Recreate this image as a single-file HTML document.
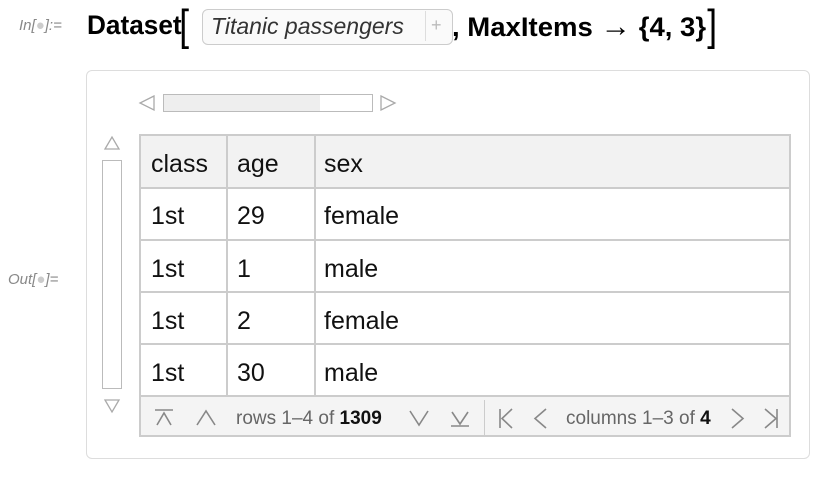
<!DOCTYPE html>
<html><head><style>
body{margin:0;width:814px;height:494px;background:#fff;font-family:"Liberation Sans",sans-serif;position:relative;overflow:hidden}
.a{position:absolute}
.lbl{color:#888;font-style:italic;font-size:15px}
.cell{position:absolute;font-size:25px;color:#111}
</style></head><body>
<div class="a lbl" style="left:19px;top:17px">In[<span style="color:#ccc">●</span>]:=</div>
<div class="a" style="left:87px;top:10px;font-size:27px;font-weight:bold;white-space:nowrap;transform:scaleX(0.97);transform-origin:left">Dataset</div>
<div class="a" style="left:178px;top:1px;font-size:44px;white-space:nowrap;transform:scaleX(0.8)">[</div>
<div class="a" style="left:202px;top:9px;width:249px;height:34px;border:1px solid #ccc;border-radius:6px;background:#fafafa"></div>
<div class="a" style="left:211px;top:13px;font-size:23px;font-style:italic;color:#333;white-space:nowrap">Titanic passengers</div>
<div class="a" style="left:425px;top:11px;width:1px;height:30px;background:#ddd"></div>
<div class="a" style="left:431px;top:15px;color:#bbb;font-size:18px">+</div>
<div class="a" style="left:452px;top:10px;font-size:27px;font-weight:bold;white-space:nowrap;transform:scaleX(1.02);transform-origin:left">, MaxItems <span style="font-size:30px">→</span> {4, 3}</div>
<div class="a" style="left:706px;top:1px;font-size:44px;white-space:nowrap;transform:scaleX(0.8)">]</div>

<div class="a lbl" style="left:8px;top:271px">Out[<span style="color:#ccc">●</span>]=</div>
<div class="a" style="left:86px;top:70px;width:722px;height:387px;border:1px solid #ddd;border-radius:6px"></div>

<svg class="a" style="left:0;top:0" width="814" height="494">
<g fill="none" stroke="#aaa" stroke-width="1.3">
<polygon points="154,96 140,103 154,110"/>
<polygon points="381,96 395,103 381,110"/>
<polygon points="105,149 112,137 119,149"/>
<polygon points="105,400 112,412 119,400"/>
</g>
<g fill="none" stroke="#888" stroke-width="1.6">
<path d="M155,410 H173 M157,425 L164,413 L171,425"/>
<path d="M197,425 L206,411 L215,425"/>
<path d="M410,411 L419,425 L428,411"/>
<path d="M451,426 H469 M452,412 L460,424 L468,412"/>
<path d="M500,409 V428 M512,409 L502,418.5 L512,428"/>
<path d="M546,409 L535,418.5 L546,428"/>
<path d="M732,409 L743,418.5 L732,428"/>
<path d="M765,409 L776,418.5 L765,428 M777,409 V428"/>
</g>
</svg>
<div class="a" style="left:163px;top:94px;width:208px;height:16px;border:1px solid #bbb;background:linear-gradient(90deg,#eee 0,#eee 156px,#fff 156px)"></div>
<div class="a" style="left:102px;top:160px;width:18px;height:227px;border:1px solid #bbb;background:#fff"></div>

<div class="a" style="left:139px;top:134px;width:652px;height:303px;border:2px solid #ccc;box-sizing:border-box"></div>
<div class="a" style="left:141px;top:136px;width:648px;height:51px;background:#f2f2f2"></div>
<div class="a" style="left:141px;top:397px;width:648px;height:38px;background:#f4f4f4;z-index:-1"></div>
<div class="a" style="left:139px;top:187px;width:652px;height:2px;background:#ccc"></div>
<div class="a" style="left:139px;top:239px;width:652px;height:2px;background:#ccc"></div>
<div class="a" style="left:139px;top:291px;width:652px;height:2px;background:#ccc"></div>
<div class="a" style="left:139px;top:343px;width:652px;height:2px;background:#ccc"></div>
<div class="a" style="left:139px;top:395px;width:652px;height:2px;background:#ccc"></div>
<div class="a" style="left:226px;top:134px;width:2px;height:262px;background:#ccc"></div>
<div class="a" style="left:314px;top:134px;width:2px;height:262px;background:#ccc"></div>
<div class="a" style="left:484px;top:400px;width:1px;height:36px;background:#ccc"></div>

<div class="cell" style="left:151px;top:150px">class</div><div class="cell" style="left:237px;top:150px">age</div><div class="cell" style="left:324px;top:150px">sex</div>
<div class="cell" style="left:151px;top:202px">1st</div><div class="cell" style="left:237px;top:202px">29</div><div class="cell" style="left:324px;top:202px">female</div>
<div class="cell" style="left:151px;top:255px">1st</div><div class="cell" style="left:237px;top:255px">1</div><div class="cell" style="left:324px;top:255px">male</div>
<div class="cell" style="left:151px;top:307px">1st</div><div class="cell" style="left:237px;top:307px">2</div><div class="cell" style="left:324px;top:307px">female</div>
<div class="cell" style="left:151px;top:359px">1st</div><div class="cell" style="left:237px;top:359px">30</div><div class="cell" style="left:324px;top:359px">male</div>

<div class="a" style="left:236px;top:408px;font-size:19px;color:#666;white-space:nowrap">rows 1–4 of <b style="color:#111">1309</b></div>
<div class="a" style="left:566px;top:408px;font-size:19px;color:#666;white-space:nowrap">columns 1–3 of <b style="color:#111">4</b></div>
</body></html>
